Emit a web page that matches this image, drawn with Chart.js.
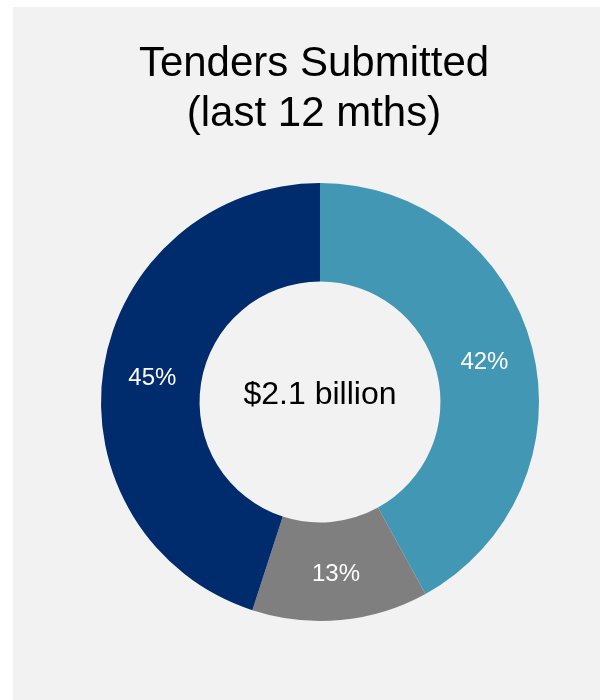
<!DOCTYPE html>
<html>
<head>
<meta charset="utf-8">
<script src="https://cdn.jsdelivr.net/npm/chart.js@4.4.0/dist/chart.umd.min.js"></script>
<style>
  html, body { margin: 0; padding: 0; background: #ffffff; }
  .panel { position: absolute; left: 13px; top: 7px; width: 587px; height: 693px; background: #f2f2f2; }
  .wrap { position: absolute; left: 0; top: 0; width: 600px; height: 700px; }
</style>
</head>
<body>
<div class="panel"></div>
<div class="wrap"><canvas id="myChart" width="600" height="700"></canvas></div>
<script>
const categories = ["Segment A", "Segment B", "Segment C"];
const shares = [42, 13, 45];
const sliceColors = ["#4297b5", "#7f7f7f", "#002b6c"];
const titleLines = ["Tenders Submitted", "(last 12 mths)"];
const centerText = "$2.1 billion";

const FONT = "'Liberation Sans', Arial, sans-serif";

// percent labels on each slice + total in the hole
const donutText = {
  id: "donutText",
  afterLayout(chart) {
    // title sits a little left of the donut centre in the original
    if (chart.titleBlock) {
      chart.titleBlock.left -= 6;
      chart.titleBlock.right -= 6;
    }
  },
  afterDatasetsDraw(chart) {
    const ctx = chart.ctx;
    const meta = chart.getDatasetMeta(0);
    ctx.save();
    ctx.textAlign = "center";
    ctx.textBaseline = "middle";
    ctx.fillStyle = "#ffffff";
    ctx.font = "24px " + FONT;
    meta.data.forEach((arc, i) => {
      const p = arc.tooltipPosition();
      ctx.fillText(shares[i] + "%", p.x, p.y + 3);
    });
    const first = meta.data[0];
    ctx.fillStyle = "#000000";
    ctx.font = "32px " + FONT;
    ctx.fillText(centerText, first.x, first.y - 7);
    ctx.restore();
  },
};

const chart = new Chart(document.getElementById("myChart"), {
  type: "doughnut",
  data: {
    labels: categories,
    datasets: [
      {
        data: shares,
        backgroundColor: sliceColors,
        borderWidth: 0,
      },
    ],
  },
  options: {
    responsive: false,
    animation: false,
    cutout: "55%",
    layout: { padding: { left: 101, right: 61, top: 0, bottom: 79 } },
    plugins: {
      legend: { display: false },
      tooltip: { enabled: false },
      title: {
        display: true,
        text: titleLines,
        color: "#000000",
        font: { family: FONT, size: 42, weight: "normal", lineHeight: 1.19 },
        padding: { top: 39, bottom: 44 },
      },
    },
  },
  plugins: [donutText],
});
</script>
</body>
</html>
